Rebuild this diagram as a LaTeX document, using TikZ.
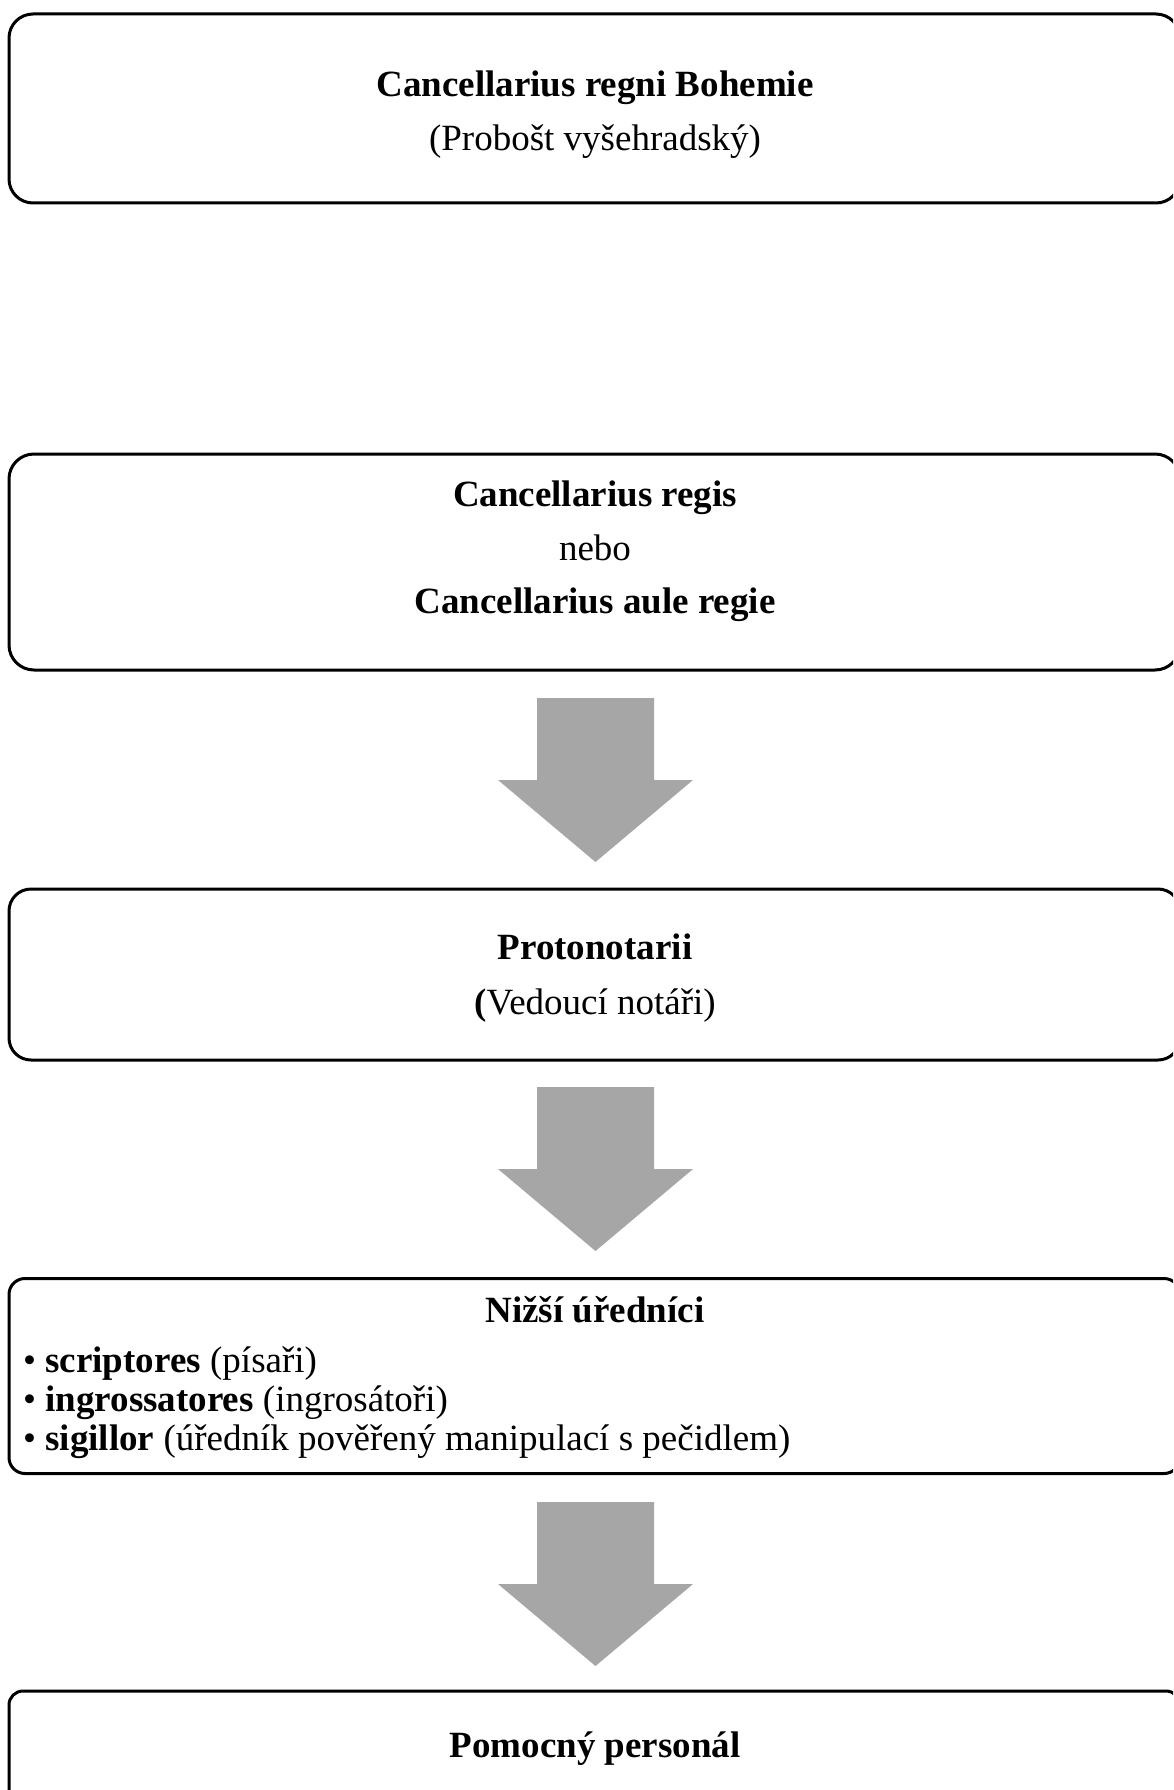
\documentclass[tikz,border=0pt]{standalone}
\usepackage{fontspec}
\setmainfont{Liberation Serif}
\definecolor{arrowgray}{HTML}{A6A6A6}
\tikzset{
  orgbox/.style={draw=black, line width=3pt, fill=white, rectangle, inner sep=0pt, minimum width=1171pt},
  boxtext/.style={anchor=base, inner sep=0pt, font=\fontsize{37}{44}\selectfont},
  listtext/.style={anchor=base west, inner sep=0pt, font=\fontsize{37}{44}\selectfont},
  bigarrow/.pic={\fill[arrowgray] (-58.5,0) -- (58.5,0) -- (58.5,82) -- (97.5,82) -- (0,164) -- (-97.5,82) -- (-58.5,82) -- cycle;}
}
\begin{document}
\begin{tikzpicture}[x=1pt,y=-1pt]
\useasboundingbox (0,0) rectangle (1173,1790);
\clip (0,0) rectangle (1173,1790);
\fill[white] (0,0) rectangle (1173,1790);
% boxes
\node[orgbox, rounded corners=24pt, minimum height=189pt] (box1) at (594.5,108.5) {};
\node[orgbox, rounded corners=25pt, minimum height=216pt] (box2) at (594.5,562) {};
\node[orgbox, rounded corners=22pt, minimum height=171pt] (box3) at (594.5,974.5) {};
\node[orgbox, rounded corners=16pt, minimum height=195pt] (box4) at (594.5,1376) {};
\node[orgbox, rounded corners=14pt, minimum height=200pt] (box5) at (594.5,1791) {};
% texts
\node[boxtext] (t1a) at (595,97) {\textbf{Cancellarius regni Bohemie}};
\node[boxtext] (t1b) at (595,151) {(Probošt vyšehradský)};
\node[boxtext] (t2a) at (595,506) {\textbf{Cancellarius regis}};
\node[boxtext] (t2b) at (595,560) {nebo};
\node[boxtext] (t2c) at (595,613) {\textbf{Cancellarius aule regie}};
\node[boxtext] (t3a) at (595,959) {\textbf{Protonotarii}};
\node[boxtext] (t3b) at (595,1014) {\textbf{(}Vedoucí notáři)};
\node[boxtext] (t4a) at (595,1322) {\textbf{Nižší úředníci}};
\node[listtext] (t4b) at (23,1372) {• \textbf{scriptores} (písaři)};
\node[listtext] (t4c) at (23,1411) {• \textbf{ingrossatores} (ingrosátoři)};
\node[listtext] (t4d) at (23,1450) {• \textbf{sigillor} (úředník pověřený manipulací s pečidlem)};
\node[boxtext] (t5a) at (595,1757) {\textbf{Pomocný personál}};
% arrows
\pic (arr1) at (595.5,698) {bigarrow};
\pic (arr2) at (595.5,1087) {bigarrow};
\pic (arr3) at (595.5,1502) {bigarrow};
\end{tikzpicture}
\end{document}
